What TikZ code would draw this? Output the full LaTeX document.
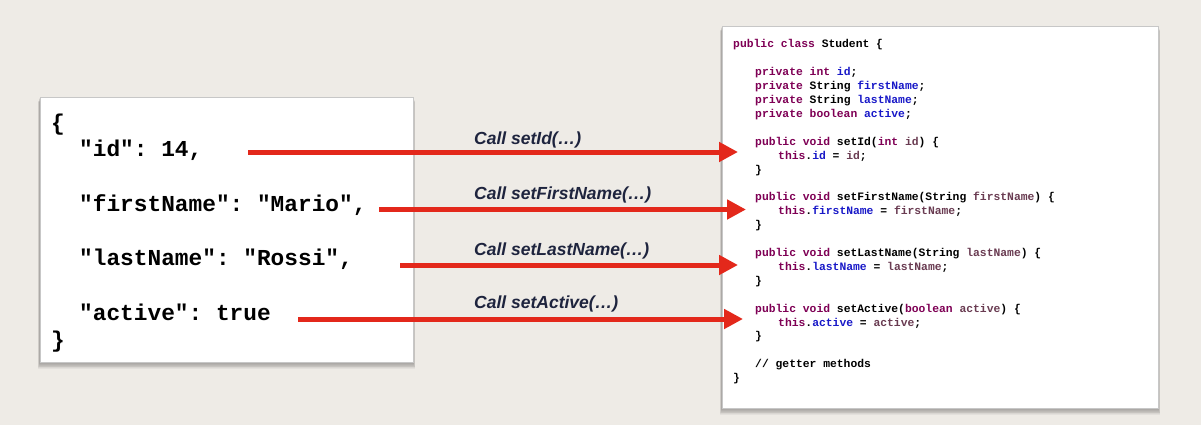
\documentclass[tikz,border=0pt]{standalone}
\usepackage{fontspec}
\setmonofont{Liberation Mono}
\setsansfont{Liberation Sans}
\usetikzlibrary{arrows.meta}
\definecolor{bg}{RGB}{238,235,230}
\definecolor{kwc}{RGB}{127,0,85}
\definecolor{fdc}{RGB}{25,25,200}
\definecolor{pac}{RGB}{106,60,82}
\definecolor{arr}{RGB}{227,40,27}
\definecolor{lblc}{RGB}{30,36,62}
\newcommand{\kw}[1]{\textcolor{kwc}{#1}}
\newcommand{\fd}[1]{\textcolor{fdc}{#1}}
\newcommand{\pa}[1]{\textcolor{pac}{#1}}
\newcommand{\codeline}[4]{\node[ctxt] (#1) at (#2,{48+13.9*#3}) {#4};}
\tikzset{
  card/.style={draw=black!22, line width=0.6pt, fill=white, inner sep=0pt, anchor=north west},
  jtxt/.style={font=\ttfamily\bfseries\fontsize{22.8}{26}\selectfont, anchor=base west, inner sep=0pt, text=black},
  ctxt/.style={font=\ttfamily\bfseries\fontsize{11.35}{13}\selectfont, anchor=base west, inner sep=0pt, text=black},
  lbl/.style={font=\sffamily\bfseries\itshape\fontsize{17.5}{20}\selectfont, text=lblc, anchor=west, inner sep=0pt},
  callarrow/.style={draw=arr, line width=5pt, -{Triangle[length=19pt,width=19pt]}}
}
\begin{document}
\begin{tikzpicture}[x=1pt,y=-1pt]
\useasboundingbox (0,0) rectangle (1201,425);
\fill[bg] (0,0) rectangle (1201,425);
% shadows
\foreach \d in {1,...,8}{
  \fill[black,opacity=0.045] (40-\d*0.3,97+\d*0.6) rectangle (413+\d*0.3,362+\d*0.9);
  \fill[black,opacity=0.045] (722-\d*0.3,26+\d*0.6) rectangle (1158+\d*0.3,408+\d*0.9);
}
% cards
\node[card, minimum width=373pt, minimum height=265pt] (json) at (40,97) {};
\node[card, minimum width=436pt, minimum height=382pt] (java) at (722,26) {};
% JSON text
\node[jtxt] (j0) at (51,130) {\{};
\node[jtxt] (j1) at (79,157) {"id": 14,};
\node[jtxt] (j2) at (79,211) {"firstName": "Mario",};
\node[jtxt] (j3) at (79,265) {"lastName": "Rossi",};
\node[jtxt] (j4) at (79,320) {"active": true};
\node[jtxt] (j5) at (51,347) {\}};
% Java code
\codeline{c0}{733}{0}{\kw{public class} Student \{}
\codeline{c2}{755}{2}{\kw{private int} \fd{id};}
\codeline{c3}{755}{3}{\kw{private} String \fd{firstName};}
\codeline{c4}{755}{4}{\kw{private} String \fd{lastName};}
\codeline{c5}{755}{5}{\kw{private boolean} \fd{active};}
\codeline{c7}{755}{7}{\kw{public void} setId(\kw{int} \pa{id}) \{}
\codeline{c8}{778}{8}{\kw{this}.\fd{id} = \pa{id};}
\codeline{c9}{755}{9}{\}}
\codeline{c11}{755}{11}{\kw{public void} setFirstName(String \pa{firstName}) \{}
\codeline{c12}{778}{12}{\kw{this}.\fd{firstName} = \pa{firstName};}
\codeline{c13}{755}{13}{\}}
\codeline{c15}{755}{15}{\kw{public void} setLastName(String \pa{lastName}) \{}
\codeline{c16}{778}{16}{\kw{this}.\fd{lastName} = \pa{lastName};}
\codeline{c17}{755}{17}{\}}
\codeline{c19}{755}{19}{\kw{public void} setActive(\kw{boolean} \pa{active}) \{}
\codeline{c20}{778}{20}{\kw{this}.\fd{active} = \pa{active};}
\codeline{c21}{755}{21}{\}}
\codeline{c23}{755}{23}{// getter methods}
\codeline{c24}{733}{24}{\}}
% arrow ends
\coordinate (s1) at (248,152); \coordinate (e1) at (738,152);
\coordinate (s2) at (379,209.5); \coordinate (e2) at (746,209.5);
\coordinate (s3) at (400,265); \coordinate (e3) at (738,265);
\coordinate (s4) at (298,319); \coordinate (e4) at (743,319);
\draw[callarrow] (s1) -- (e1);
\draw[callarrow] (s2) -- (e2);
\draw[callarrow] (s3) -- (e3);
\draw[callarrow] (s4) -- (e4);
% labels
\node[lbl] (l1) at (474,140) {Call setId(…)};
\node[lbl] (l2) at (474,195) {Call setFirstName(…)};
\node[lbl] (l3) at (474,251) {Call setLastName(…)};
\node[lbl] (l4) at (474,304) {Call setActive(…)};
\end{tikzpicture}
\end{document}
